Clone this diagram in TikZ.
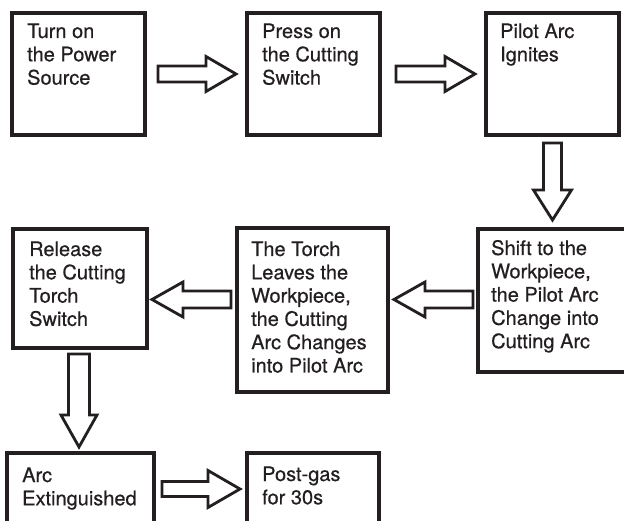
\documentclass[tikz,border=0pt]{standalone}
\usepackage{fontspec}
\setmainfont{TeX Gyre Heros}[FakeBold=0.45]
\usetikzlibrary{calc}
\definecolor{ink}{HTML}{231F20}
\begin{document}
\begin{tikzpicture}[x=1pt,y=-1pt,
  box/.style={draw=ink, line width=3.3pt, anchor=north west, inner sep=0pt, outer sep=0pt},
  lbl/.style={anchor=base west, inner sep=0pt, text=ink, font=\fontsize{20}{23.3}\selectfont},
  blockarrow/.style n args={3}{draw=ink, line width=2.8pt, line join=miter, to path={
    let \p1=($(\tikztotarget)!#3!(\tikztostart)$) in
    ($(\tikztostart)!#1!90:(\tikztotarget)$) -- ($(\p1)!#1!90:(\tikztotarget)$)
    -- ($(\p1)!#2!90:(\tikztotarget)$) -- (\tikztotarget)
    -- ($(\p1)!#2!-90:(\tikztotarget)$) -- ($(\p1)!#1!-90:(\tikztotarget)$)
    -- ($(\tikztostart)!#1!-90:(\tikztotarget)$) -- cycle}}
]
\useasboundingbox (0,0) rectangle (624,521);
\clip (0,0) rectangle (624,521);
\fill[white] (0,0) rectangle (624,521);

% boxes
\node[box, minimum width=133pt, minimum height=122pt] (b1) at (12,13) {};
\node[box, minimum width=133pt, minimum height=122pt] (b2) at (247,13) {};
\node[box, minimum width=133pt, minimum height=122pt] (b3) at (486,13) {};
\node[box, minimum width=162pt, minimum height=143pt] (b4) at (478,229) {};
\node[box, minimum width=151pt, minimum height=164pt] (b5) at (237,228) {};
\node[box, minimum width=134pt, minimum height=119pt] (b6) at (13,229) {};
\node[box, minimum width=147pt, minimum height=72pt] (b7) at (7,453) {};
\node[box, minimum width=132pt, minimum height=72pt] (b8) at (247,453) {};

% texts
\node[lbl] (t1) at (27,38) {\parbox[t]{150pt}{Turn on\\the Power\\Source}};
\node[lbl] (t2) at (262,38) {\parbox[t]{150pt}{Press on\\the Cutting\\Switch}};
\node[lbl] (t3) at (500,38) {\parbox[t]{150pt}{Pilot Arc\\Ignites}};
\node[lbl] (t4) at (491,255) {\parbox[t]{150pt}{Shift to the\\Workpiece,\\the Pilot Arc\\Change into\\Cutting Arc}};
\node[lbl] (t5) at (251,256) {\parbox[t]{150pt}{The Torch\\Leaves the\\Workpiece,\\the Cutting\\Arc Changes\\into Pilot Arc}};
\node[lbl] (t6) at (29,256) {\parbox[t]{150pt}{Release\\the Cutting\\Torch\\Switch}};
\node[lbl] (t7) at (22,482) {\parbox[t]{150pt}{Arc\\Extinguished}};
\node[lbl] (t8) at (262,481) {\parbox[t]{150pt}{Post-gas\\for 30s}};

% block arrows
\draw[blockarrow={8pt}{17.5pt}{30pt}] ($(b1.east)+(13,0)$) to ($(b2.west)+(-11,0)$);
\draw[blockarrow={8pt}{17.5pt}{30pt}] ($(b2.east)+(16,0)$) to ($(b3.west)+(-11,0)$);
\draw[blockarrow={9pt}{19pt}{30pt}] ($(b3.south)+(0,8)$) to ($(b3.south |- b4.north)+(0,-9)$);
\draw[blockarrow={8.5pt}{17.5pt}{31pt}] ($(b4.west)+(-5,-1)$) to ($(b5.east |- b4.west)+(6,-1)$);
\draw[blockarrow={8.5pt}{17.5pt}{31pt}] ($(b5.west |- b4.west)+(-6,-1)$) to ($(b6.east |- b4.west)+(5,-1)$);
\draw[blockarrow={10.5pt}{18pt}{32pt}] ($(b6.south)+(-1,6)$) to ($(b7.north)+(-1.5,-6)$);
\draw[blockarrow={7.5pt}{18.5pt}{32pt}] ($(b7.east)+(8,0)$) to ($(b8.west)+(-7,0)$);
\end{tikzpicture}
\end{document}
